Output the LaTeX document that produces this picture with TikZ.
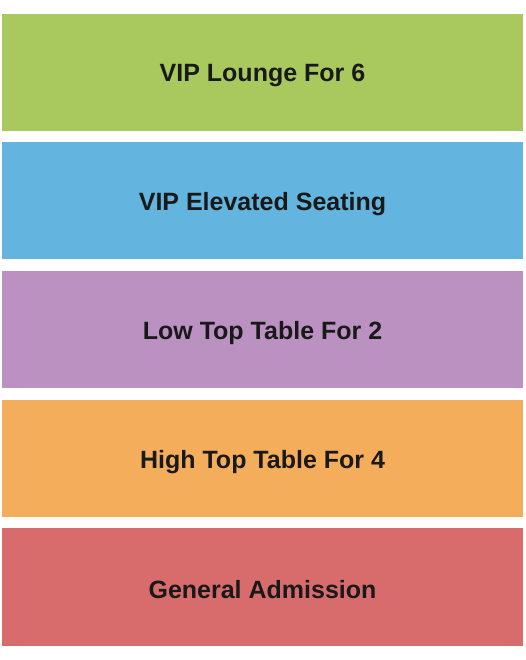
\documentclass[tikz,border=0pt]{standalone}
\usepackage{fontspec}
\setmainfont{Liberation Sans}
\definecolor{loungegreen}{RGB}{169, 201, 94}
\definecolor{elevblue}{RGB}{99, 180, 222}
\definecolor{lowpurple}{RGB}{187, 145, 194}
\definecolor{highorange}{RGB}{244, 173, 90}
\definecolor{gared}{RGB}{216, 108, 108}
\tikzset{
  sectionlabel/.style={font=\fontsize{25}{30}\selectfont\bfseries, text=black!90}
}
\begin{document}
\begin{tikzpicture}[x=1pt,y=-1pt]
\useasboundingbox (0,0) rectangle (525,660);

% Sections
\fill[loungegreen] (2,14) rectangle (523,131);
\fill[elevblue] (2,142) rectangle (523,259);
\fill[lowpurple] (2,271) rectangle (523,388);
\fill[highorange] (2,400) rectangle (523,517);
\fill[gared] (2,528) rectangle (523,646);

% Labels
\node[sectionlabel] (lounge) at (262.5,75.5) {VIP Lounge For 6};
\node[sectionlabel] (elevated) at (262.5,204) {VIP Elevated Seating};
\node[sectionlabel] (lowtop) at (262.5,333) {Low Top Table For 2};
\node[sectionlabel] (hightop) at (262.5,462.5) {High Top Table For 4};
\node[sectionlabel] (general) at (262.5,590) {General Admission};
\end{tikzpicture}
\end{document}
